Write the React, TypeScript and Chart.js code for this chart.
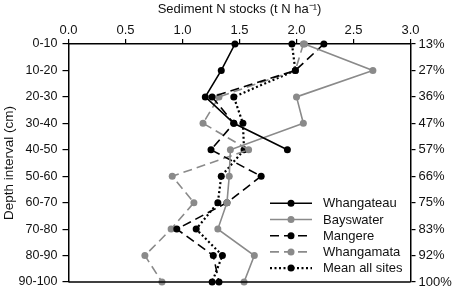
import React, { useEffect, useRef } from "react";
import { Chart, registerables } from "chart.js";

Chart.register(...registerables);

const depthLabels = ["0-10", "10-20", "20-30", "30-40", "40-50", "50-60", "60-70", "70-80", "80-90", "90-100"];
const cumulativeLabels = ["13%", "27%", "36%", "47%", "57%", "66%", "75%", "83%", "92%", "100%"];

const whangateau = [1.46, 1.34, 1.2, 1.45, 1.92, null, null, null, null, null];
const bayswater = [2.07, 2.67, 2.0, 2.06, 1.42, 1.41, 1.39, 1.31, 1.63, 1.54];
const mangere = [2.24, 1.99, 1.26, 1.45, 1.25, 1.69, 1.39, 0.95, 1.27, 1.32];
const whangamata = [2.06, 1.99, 1.32, 1.18, 1.58, 0.91, 1.1, 0.9, 0.67, 0.82];
const meanAllSites = [1.96, 1.99, 1.45, 1.53, 1.54, 1.34, 1.31, 1.12, 1.35, 1.26];

const FONT = "'Liberation Sans', Arial, sans-serif";
const GRAY = "#8a8a8a";
const BLACK = "#000000";

const frameAndLegend = {
  id: "frameAndLegend",
  afterDatasetsDraw(chart: any) {
    const ctx = chart.ctx;
    const ca = chart.chartArea;
    ctx.save();
    ctx.beginPath();
    ctx.strokeStyle = "#000";
    ctx.lineWidth = 1.5;
    ctx.moveTo(ca.left, ca.bottom);
    ctx.lineTo(ca.right, ca.bottom);
    ctx.stroke();

    const bx = ca.right - 147;
    const by = ca.bottom - 88;
    ctx.fillStyle = "#fff";
    ctx.fillRect(bx, by, 142, 84);
    const lx = ca.right - 140.5;
    const firstY = ca.bottom - 78.7;
    chart.data.datasets.forEach((ds: any, i: number) => {
      const y = firstY + i * 16.2;
      ctx.beginPath();
      ctx.setLineDash(ds.borderDash || []);
      ctx.strokeStyle = ds.borderColor;
      ctx.lineWidth = ds.borderWidth;
      ctx.moveTo(lx, y);
      ctx.lineTo(lx + 42, y);
      ctx.stroke();
      ctx.setLineDash([]);
      ctx.beginPath();
      ctx.fillStyle = ds.pointBackgroundColor;
      ctx.arc(lx + 21, y, ds.pointRadius, 0, Math.PI * 2);
      ctx.fill();
      ctx.fillStyle = "#111";
      ctx.font = `13px ${FONT}`;
      ctx.textBaseline = "middle";
      ctx.textAlign = "left";
      ctx.fillText(ds.label, lx + 53, y + 0.5);
    });
    ctx.restore();
  },
};

function series(label: string, data: (number | null)[], color: string, dash: number[], width = 1.6) {
  return {
    label,
    data,
    borderColor: color,
    backgroundColor: color,
    pointBackgroundColor: color,
    pointBorderColor: color,
    pointRadius: 3.5,
    pointBorderWidth: 0,
    borderWidth: width,
    borderDash: dash,
    fill: false,
    tension: 0,
    yAxisID: "y",
    xAxisID: "x",
  };
}

export default function App() {
  const ref = useRef<HTMLCanvasElement | null>(null);
  useEffect(() => {
    if (!ref.current) return;
    const chart = new Chart(ref.current, {
      type: "line",
      data: {
        labels: depthLabels,
        datasets: [
          series("Whangateau", whangateau, BLACK, []),
          series("Bayswater", bayswater, GRAY, []),
          series("Mangere", mangere, BLACK, [9, 5]),
          series("Whangamata", whangamata, GRAY, [9, 5]),
          series("Mean all sites", meanAllSites, BLACK, [2, 2.5], 2.2),
        ] as any,
      },
      plugins: [frameAndLegend],
      options: {
        indexAxis: "y",
        animation: false,
        responsive: false,
        layout: { padding: { top: 0, bottom: 7, left: 0, right: 0 } },
        plugins: { legend: { display: false }, tooltip: { enabled: false } },
        scales: {
          x: {
            type: "linear",
            position: "top",
            min: 0,
            max: 3,
            afterFit: (s: any) => { s.height = 44; s.paddingLeft = 0; s.paddingRight = 0; },
            ticks: {
              stepSize: 0.5,
              callback: (v: any) => Number(v).toFixed(1),
              font: { family: FONT, size: 13 },
              color: "#111",
              padding: 1,
            },
            grid: { display: true, drawOnChartArea: false, drawTicks: true, tickLength: 5, color: "#000", lineWidth: 1.2 },
            border: { display: true, color: "#000", width: 1.5 },
            title: {
              display: true,
              text: "Sediment N stocks (t N ha⁻¹)",
              font: { family: FONT, size: 13 },
              color: "#111",
              padding: { top: 2, bottom: 0 },
            },
          },
          y: {
            type: "category",
            position: "left",
            offset: false,
            afterFit: (s: any) => { s.width = 68.5; s.paddingTop = 0; s.paddingBottom = 0; },
            ticks: { autoSkip: false, font: { family: FONT, size: 12.5 }, color: "#111", padding: 5 },
            grid: { display: true, drawOnChartArea: false, drawTicks: true, tickLength: 6, color: "#000", lineWidth: 1.2 },
            border: { display: true, color: "#000", width: 1.5 },
            title: {
              display: true,
              text: "Depth interval (cm)",
              font: { family: FONT, size: 13.5 },
              color: "#111",
              padding: { top: 1, bottom: 0 },
            },
          },
          y2: {
            type: "category",
            position: "right",
            labels: cumulativeLabels,
            offset: false,
            afterFit: (s: any) => { s.width = 43.5; s.paddingTop = 0; s.paddingBottom = 0; },
            ticks: { autoSkip: false, font: { family: FONT, size: 13 }, color: "#111", padding: 3 },
            grid: { display: true, drawOnChartArea: false, drawTicks: true, tickLength: 5, color: "#000", lineWidth: 1.2 },
            border: { display: true, color: "#000", width: 1.5 },
          },
        },
      } as any,
    });
    return () => chart.destroy();
  }, []);
  return (
    <div style={{ position: "fixed", left: 0, top: 0, width: 454, height: 289, background: "#fff" }}>
      <canvas ref={ref} width={454} height={289} />
    </div>
  );
}
